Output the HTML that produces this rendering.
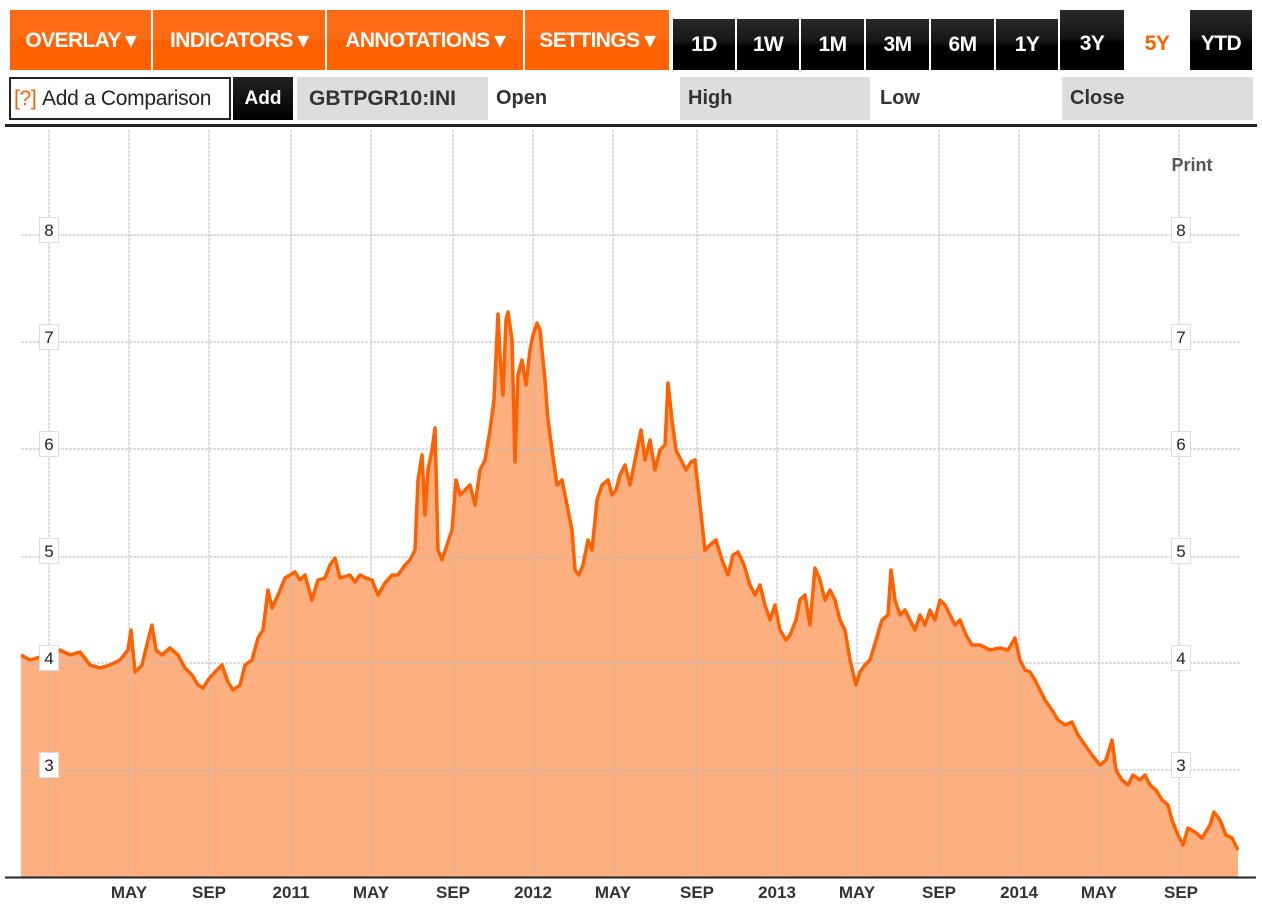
<!DOCTYPE html>
<html><head><meta charset="utf-8"><style>
*{margin:0;padding:0;box-sizing:border-box}
body{width:1262px;height:912px;background:#fff;position:relative;overflow:hidden;font-family:"Liberation Sans",Arial,sans-serif}
.b{position:absolute;color:#fff;font-weight:bold;font-size:21px;display:flex;align-items:center;justify-content:center;letter-spacing:-0.6px}
.o{top:10px;height:60px;background:linear-gradient(#ff6a14 0%,#ff6a14 48%,#ff6000 52%,#ff6000 100%)}
.k{top:19px;height:51px;background:linear-gradient(#2a2a2a 0%,#151515 45%,#000 55%,#000 100%)}
.r2{position:absolute;top:77px;height:43px;font-weight:bold;font-size:20px;color:#333;display:flex;align-items:center;padding-left:8px}
</style></head><body>
<div class="b o" style="left:10px;width:141px">OVERLAY ▾</div>
<div class="b o" style="left:153px;width:172px">INDICATORS ▾</div>
<div class="b o" style="left:327px;width:196px">ANNOTATIONS ▾</div>
<div class="b o" style="left:525px;width:144px">SETTINGS ▾</div>
<div class="b k" style="left:673px;width:62px">1D</div>
<div class="b k" style="left:737px;width:62px">1W</div>
<div class="b k" style="left:801px;width:63px">1M</div>
<div class="b k" style="left:866px;width:63px">3M</div>
<div class="b k" style="left:931px;width:63px">6M</div>
<div class="b k" style="left:996px;width:62px">1Y</div>
<div class="b k" style="left:1060px;width:64px;top:10px;height:60px;padding-top:8px">3Y</div>
<div class="b" style="left:1126px;width:62px;top:10px;height:60px;color:#ff6000;padding-top:8px">5Y</div>
<div class="b k" style="left:1190px;width:62px;top:10px;height:60px;padding-top:8px">YTD</div>
<div style="position:absolute;left:9px;top:77px;width:222px;height:43px;border:2px solid #222;font-size:21px;color:#222;display:flex;align-items:center;padding-left:3px;letter-spacing:-0.3px"><span style="color:#ff6000">[?]</span>&nbsp;Add a Comparison</div>
<div style="position:absolute;left:233px;top:77px;width:60px;height:43px;background:linear-gradient(#222,#000);color:#fff;font-weight:bold;font-size:19px;display:flex;align-items:center;justify-content:center">Add</div>
<div class="r2" style="left:297px;width:191px;background:#ddd;padding-left:12px;font-size:21px">GBTPGR10:INI</div>
<div class="r2" style="left:488px;width:190px">Open</div>
<div class="r2" style="left:680px;width:190px;background:#ddd">High</div>
<div class="r2" style="left:872px;width:188px">Low</div>
<div class="r2" style="left:1062px;width:191px;background:#ddd">Close</div>
<div style="position:absolute;left:5px;top:124px;width:1252px;height:3px;background:#222"></div>
<svg width="1262" height="912" style="position:absolute;left:0;top:0">
<defs>
<polyline id="d" points="21,655 30,660 40,657 49,660 60,650 70,655 80,652 90,665 100,668 110,665 120,660 128,650 131,630 135,672 142,665 148,640 152,625 156,650 162,655 170,648 178,655 185,668 192,675 198,685 203,688 208,680 215,672 222,665 228,682 233,690 240,685 245,665 252,660 258,638 263,630 268,590 272,608 278,595 285,578 290,575 295,572 300,580 305,575 312,600 318,580 325,578 330,565 335,558 340,578 350,575 355,582 360,575 366,578 372,580 378,595 385,583 392,575 398,575 405,565 410,560 415,550 418,480 422,455 425,515 428,470 432,450 435,428 438,550 442,560 447,545 452,530 456,480 460,495 465,490 470,485 475,505 480,470 485,460 490,430 494,400 498,314 500,355 503,395 506,320 508,312 512,340 515,462 518,375 522,360 526,385 530,350 533,335 537,323 540,330 545,380 548,420 552,450 557,485 562,480 568,510 572,530 575,570 579,575 583,565 588,540 592,550 597,500 602,485 608,480 612,495 616,490 620,475 625,465 630,485 636,455 641,430 645,460 650,440 655,470 660,450 665,445 668,383 672,420 676,450 681,460 686,470 691,462 695,460 700,505 705,550 710,545 716,540 722,560 728,575 733,555 738,552 744,565 750,585 755,595 760,585 765,605 770,620 775,605 780,630 786,640 790,635 796,620 800,600 805,595 810,625 815,568 820,580 825,600 830,590 835,600 840,620 845,630 850,660 856,685 860,672 865,665 870,660 876,640 882,620 888,615 891,570 895,600 900,615 905,610 910,620 915,630 920,615 925,625 930,610 935,620 940,600 945,605 950,615 955,625 960,620 966,635 972,645 980,645 990,650 1000,648 1008,650 1015,638 1020,660 1025,670 1030,672 1035,680 1040,690 1045,700 1052,710 1058,720 1065,725 1072,722 1078,735 1085,745 1092,755 1100,765 1106,760 1112,740 1116,770 1122,780 1128,785 1133,775 1140,780 1145,775 1150,785 1156,790 1162,800 1168,805 1172,820 1178,835 1183,845 1188,828 1195,832 1202,838 1210,825 1214,812 1220,820 1226,835 1232,838 1238,850"/>
</defs>
<polygon fill="#fdaf7f" points="21,877 21,655 30,660 40,657 49,660 60,650 70,655 80,652 90,665 100,668 110,665 120,660 128,650 131,630 135,672 142,665 148,640 152,625 156,650 162,655 170,648 178,655 185,668 192,675 198,685 203,688 208,680 215,672 222,665 228,682 233,690 240,685 245,665 252,660 258,638 263,630 268,590 272,608 278,595 285,578 290,575 295,572 300,580 305,575 312,600 318,580 325,578 330,565 335,558 340,578 350,575 355,582 360,575 366,578 372,580 378,595 385,583 392,575 398,575 405,565 410,560 415,550 418,480 422,455 425,515 428,470 432,450 435,428 438,550 442,560 447,545 452,530 456,480 460,495 465,490 470,485 475,505 480,470 485,460 490,430 494,400 498,314 500,355 503,395 506,320 508,312 512,340 515,462 518,375 522,360 526,385 530,350 533,335 537,323 540,330 545,380 548,420 552,450 557,485 562,480 568,510 572,530 575,570 579,575 583,565 588,540 592,550 597,500 602,485 608,480 612,495 616,490 620,475 625,465 630,485 636,455 641,430 645,460 650,440 655,470 660,450 665,445 668,383 672,420 676,450 681,460 686,470 691,462 695,460 700,505 705,550 710,545 716,540 722,560 728,575 733,555 738,552 744,565 750,585 755,595 760,585 765,605 770,620 775,605 780,630 786,640 790,635 796,620 800,600 805,595 810,625 815,568 820,580 825,600 830,590 835,600 840,620 845,630 850,660 856,685 860,672 865,665 870,660 876,640 882,620 888,615 891,570 895,600 900,615 905,610 910,620 915,630 920,615 925,625 930,610 935,620 940,600 945,605 950,615 955,625 960,620 966,635 972,645 980,645 990,650 1000,648 1008,650 1015,638 1020,660 1025,670 1030,672 1035,680 1040,690 1045,700 1052,710 1058,720 1065,725 1072,722 1078,735 1085,745 1092,755 1100,765 1106,760 1112,740 1116,770 1122,780 1128,785 1133,775 1140,780 1145,775 1150,785 1156,790 1162,800 1168,805 1172,820 1178,835 1183,845 1188,828 1195,832 1202,838 1210,825 1214,812 1220,820 1226,835 1232,838 1238,850 1238,877"/>
<g stroke="#bbb" stroke-width="1" stroke-dasharray="3,1" fill="none">
<path d="M49,130V877M129,130V877M209,130V877M291,130V877M371,130V877M453,130V877M533,130V877M613,130V877M697,130V877M777,130V877M857,130V877M939,130V877M1019,130V877M1099,130V877M1179,130V877"/>
<path d="M21,235H1240M21,342H1240M21,449H1240M21,557H1240M21,663H1240M21,770H1240"/>
</g>
<use href="#d" fill="none" stroke="#ff6000" stroke-width="3.5" stroke-linejoin="round"/>
<path d="M5,877.5H1256" stroke="#222" stroke-width="2"/>
<g font-size="17" fill="#222" text-anchor="middle">
<g fill="#fff" stroke="#ddd"><rect x="39.5" y="217.5" width="19" height="25"/><rect x="39.5" y="324.5" width="19" height="25"/><rect x="39.5" y="431.5" width="19" height="25"/><rect x="39.5" y="538.5" width="19" height="25"/><rect x="39.5" y="645.5" width="19" height="25"/><rect x="39.5" y="752.5" width="19" height="25"/>
<rect x="1171.5" y="217.5" width="19" height="25"/><rect x="1171.5" y="324.5" width="19" height="25"/><rect x="1171.5" y="431.5" width="19" height="25"/><rect x="1171.5" y="538.5" width="19" height="25"/><rect x="1171.5" y="645.5" width="19" height="25"/><rect x="1171.5" y="752.5" width="19" height="25"/></g>
<text x="49" y="236">8</text><text x="49" y="343">7</text><text x="49" y="450">6</text><text x="49" y="557">5</text><text x="49" y="664">4</text><text x="49" y="771">3</text>
<text x="1181" y="236">8</text><text x="1181" y="343">7</text><text x="1181" y="450">6</text><text x="1181" y="557">5</text><text x="1181" y="664">4</text><text x="1181" y="771">3</text>
</g>
<text x="1192" y="171" font-size="18" font-weight="bold" fill="#555" text-anchor="middle">Print</text>
<g font-size="17" font-weight="bold" fill="#333" text-anchor="middle">
<text x="129" y="898">MAY</text><text x="209" y="898">SEP</text><text x="291" y="898">2011</text><text x="371" y="898">MAY</text><text x="453" y="898">SEP</text><text x="533" y="898">2012</text><text x="613" y="898">MAY</text><text x="697" y="898">SEP</text><text x="777" y="898">2013</text><text x="857" y="898">MAY</text><text x="939" y="898">SEP</text><text x="1019" y="898">2014</text><text x="1099" y="898">MAY</text><text x="1181" y="898">SEP</text>
</g>
</svg>
</body></html>
